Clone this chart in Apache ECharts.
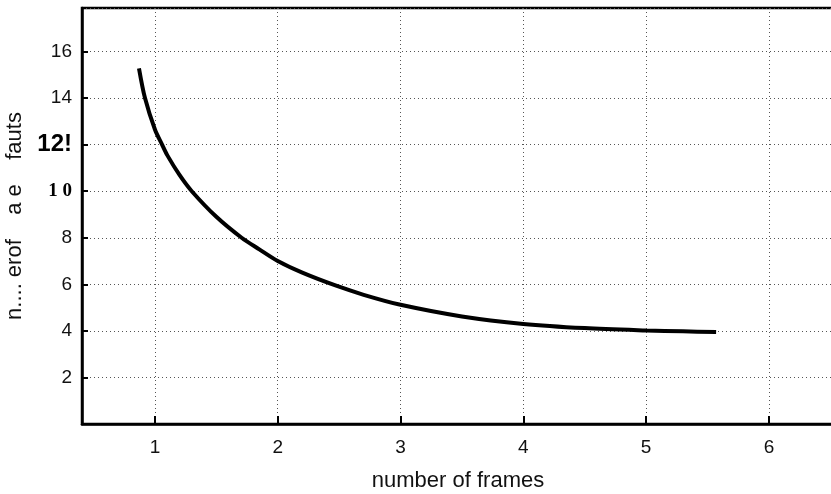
<!DOCTYPE html>
<html>
<head>
<meta charset="utf-8">
<script src="https://cdn.jsdelivr.net/npm/echarts@6/dist/echarts.min.js"></script>
<style>
html,body{margin:0;padding:0;background:#fff;}
#c{width:831px;height:494px;}
</style>
</head>
<body>
<div id="c"></div>
<script>
// Data
const frames = [0.87, 0.919, 1.0, 1.058, 1.1, 1.2, 1.3, 1.5, 1.706, 1.85, 2.0, 2.2, 2.47, 2.7, 3.0, 3.5, 4.0, 4.5, 5.0, 5.3, 5.57];
const faults = [15.28, 14.0, 12.65, 12.0, 11.55, 10.7, 10.0, 8.9, 8.0, 7.5, 7.0, 6.5, 5.95, 5.55, 5.12, 4.62, 4.3, 4.12, 4.02, 3.98, 3.95];
const xTicks = [1, 2, 3, 4, 5, 6];
const yTicks = [2, 4, 6, 8, 10, 12, 14, 16];
const yTickText = {2:'2', 4:'4', 6:'6', 8:'8', 10:'{s|1 0}', 12:'{b|12!}', 14:'14', 16:'16'};
const xName = 'number of frames';
const yName = 'n.... erof    a e    fauts';

const chart = echarts.init(document.getElementById('c'), null, {renderer:'canvas'});
const font = 'Liberation Sans, Arial, Helvetica, sans-serif';
chart.setOption({
  animation:false,
  backgroundColor:'#fff',
  grid:{left:82, right:-3, top:8, bottom:70, containLabel:false, outerBoundsMode:'none',
        show:true, borderColor:'#000', borderWidth:2.5, backgroundColor:'transparent'},
  xAxis:{
    type:'value', min:0.406, max:6.53, splitNumber:6,
    name:xName, nameLocation:'middle', nameGap:46,
    nameTextStyle:{fontFamily:font, fontSize:22, color:'#111'},
    axisLine:{show:true, onZero:false, lineStyle:{color:'#000', width:2.5}},
    axisTick:{show:true, inside:true, length:8, lineStyle:{color:'#000', width:2}},
    axisLabel:{margin:14, fontFamily:font, fontSize:19, color:'#111',
      showMinLabel:false, showMaxLabel:false,
      formatter:v => xTicks.indexOf(Math.round(v*1000)/1000) >= 0 ? String(v) : ''},
    splitLine:{show:true, lineStyle:{color:'#555', width:1, type:[1,3]}}
  },
  yAxis:{
    type:'value', min:0, max:17.87, interval:2,
    name:yName, nameLocation:'middle', nameGap:52, nameRotate:90,
    nameTextStyle:{fontFamily:font, fontSize:22, color:'#111'},
    axisLine:{show:true, onZero:false, lineStyle:{color:'#000', width:2.5}},
    axisTick:{show:true, inside:true, length:6, lineStyle:{color:'#000', width:2}},
    axisLabel:{margin:10, fontFamily:font, fontSize:19, color:'#111',
      showMinLabel:false, showMaxLabel:false,
      formatter:v => yTickText[v] !== undefined && yTicks.indexOf(v) >= 0 ? yTickText[v] : '',
      rich:{
        b:{fontFamily:font, fontSize:24, fontWeight:'bold', color:'#000'},
        s:{fontFamily:'Liberation Serif, Times New Roman, serif', fontSize:19, fontWeight:'bold', color:'#000'}
      }},
    splitLine:{show:true, lineStyle:{color:'#555', width:1, type:[1,3]}}
  },
  series:[{
    type:'line', smooth:0.3, showSymbol:false, symbol:'none',
    data:frames.map((x,i)=>[x, faults[i]]),
    lineStyle:{color:'#000', width:4}
  }]
});
</script>
</body>
</html>
